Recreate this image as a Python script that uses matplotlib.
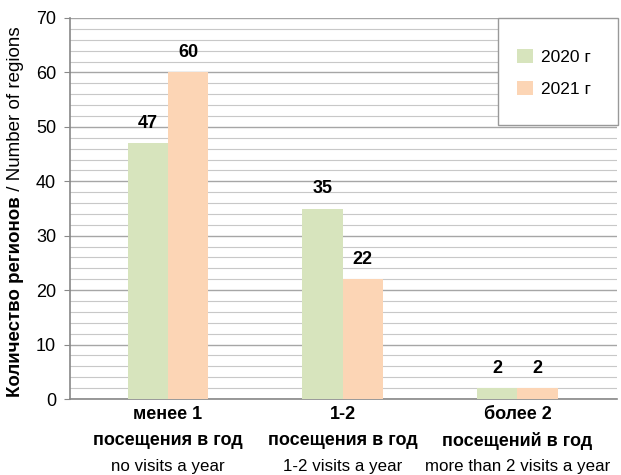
import matplotlib
matplotlib.use("Agg")
import matplotlib.pyplot as plt
import matplotlib.transforms as mtrans
from matplotlib.patches import Patch, Rectangle
import numpy as np

plt.rcParams['font.family'] = ['Liberation Sans', 'DejaVu Sans']

cat_ru1 = ["менее 1", "1-2", "более 2"]
cat_ru2 = ["посещения в год", "посещения в год", "посещений в год"]
cat_en = ["no visits a year", "1-2 visits a year", "more than 2 visits a year"]
series_names = ["2020 г", "2021 г"]
vals_2020 = [47, 35, 2]
vals_2021 = [60, 22, 2]
colors = ["#d7e4bd", "#fcd5b5"]
ylabel_bold = "Количество регионов"
ylabel_norm = " / Number of regions"

FS = 13

fig = plt.figure(figsize=(6.21, 4.75), dpi=100)
ax = fig.add_axes([70/621, 76/475, 547/621, 381/475])

x = np.arange(len(cat_ru1))
w = 0.23
b1 = ax.bar(x - w/2, vals_2020, w, color=colors[0], zorder=3)
b2 = ax.bar(x + w/2, vals_2021, w, color=colors[1], zorder=3)

for bars, vals in ((b1, vals_2020), (b2, vals_2021)):
    for r, v in zip(bars, vals):
        ax.annotate(str(v), (r.get_x() + r.get_width()/2, v), xytext=(0, 8),
                    textcoords="offset points", ha="center", va="bottom",
                    fontsize=FS, fontweight="bold", zorder=4)

ax.set_ylim(0, 70)
ax.set_xlim(-0.56, 2.57)
ax.set_yticks(np.arange(0, 71, 10))
ax.set_yticks(np.arange(0, 71, 2), minor=True)
ax.tick_params(axis='y', which='major', length=4, color='#888888', labelsize=FS, pad=6)
ax.tick_params(axis='y', which='minor', length=0)
ax.set_xticks([])
ax.grid(axis='y', which='major', color='#a6a6a6', lw=1.0, zorder=0)
ax.grid(axis='y', which='minor', color='#c8c8c8', lw=0.8, zorder=0)
for s in ('top', 'right'):
    ax.spines[s].set_visible(False)
for s in ('left', 'bottom'):
    ax.spines[s].set_color('#888888')
    ax.spines[s].set_linewidth(1.2)

trans = mtrans.blended_transform_factory(ax.transData, ax.transAxes)
for i in range(len(cat_ru1)):
    ax.annotate(cat_ru1[i], (x[i], 0), xycoords=trans, xytext=(0, -11.5),
                textcoords="offset points", ha="center", va="center",
                fontsize=FS, fontweight="bold")
    ax.annotate(cat_ru2[i], (x[i], 0), xycoords=trans, xytext=(0, -30),
                textcoords="offset points", ha="center", va="center",
                fontsize=FS, fontweight="bold")
    ax.annotate(cat_en[i], (x[i], 0), xycoords=trans, xytext=(0, -48.5),
                textcoords="offset points", ha="center", va="center",
                fontsize=12.2)

# y label: bold + normal part, same size, total length matched to reference
fig.canvas.draw()
renderer = fig.canvas.get_renderer()
t1 = fig.text(0, 0, ylabel_bold, rotation=90, fontsize=10,
              fontweight="bold", ha="center", va="bottom")
t2 = fig.text(0, 0, ylabel_norm, rotation=90, fontsize=10,
              ha="center", va="bottom")
h1 = t1.get_window_extent(renderer).height
h2 = t2.get_window_extent(renderer).height
fs_y = 10 * 372 / (h1 + h2)
t1.set_fontsize(fs_y)
t2.set_fontsize(fs_y)
h1 = t1.get_window_extent(renderer).height
y0 = 475 - 397
t1.set_position((16/621, y0/475))
t2.set_position((16/621, (y0 + h1)/475))

# legend frame
frame = Rectangle((498/621, (475-125)/475), 120/621, 107/475,
                  transform=fig.transFigure, facecolor='white',
                  edgecolor='#999999', lw=1.0, zorder=2)
fig.add_artist(frame)
handles = [Patch(facecolor=c, edgecolor='none') for c in colors]
leg = fig.legend(handles, series_names, loc='upper left',
                 bbox_to_anchor=(517/621, 1 - 49/475), frameon=False,
                 fontsize=12.5, handlelength=0.92, handleheight=0.86,
                 labelspacing=0.9, borderpad=0, handletextpad=0.45,
                 borderaxespad=0)
leg.set_zorder(3)

fig.savefig("out.png", dpi=100)
